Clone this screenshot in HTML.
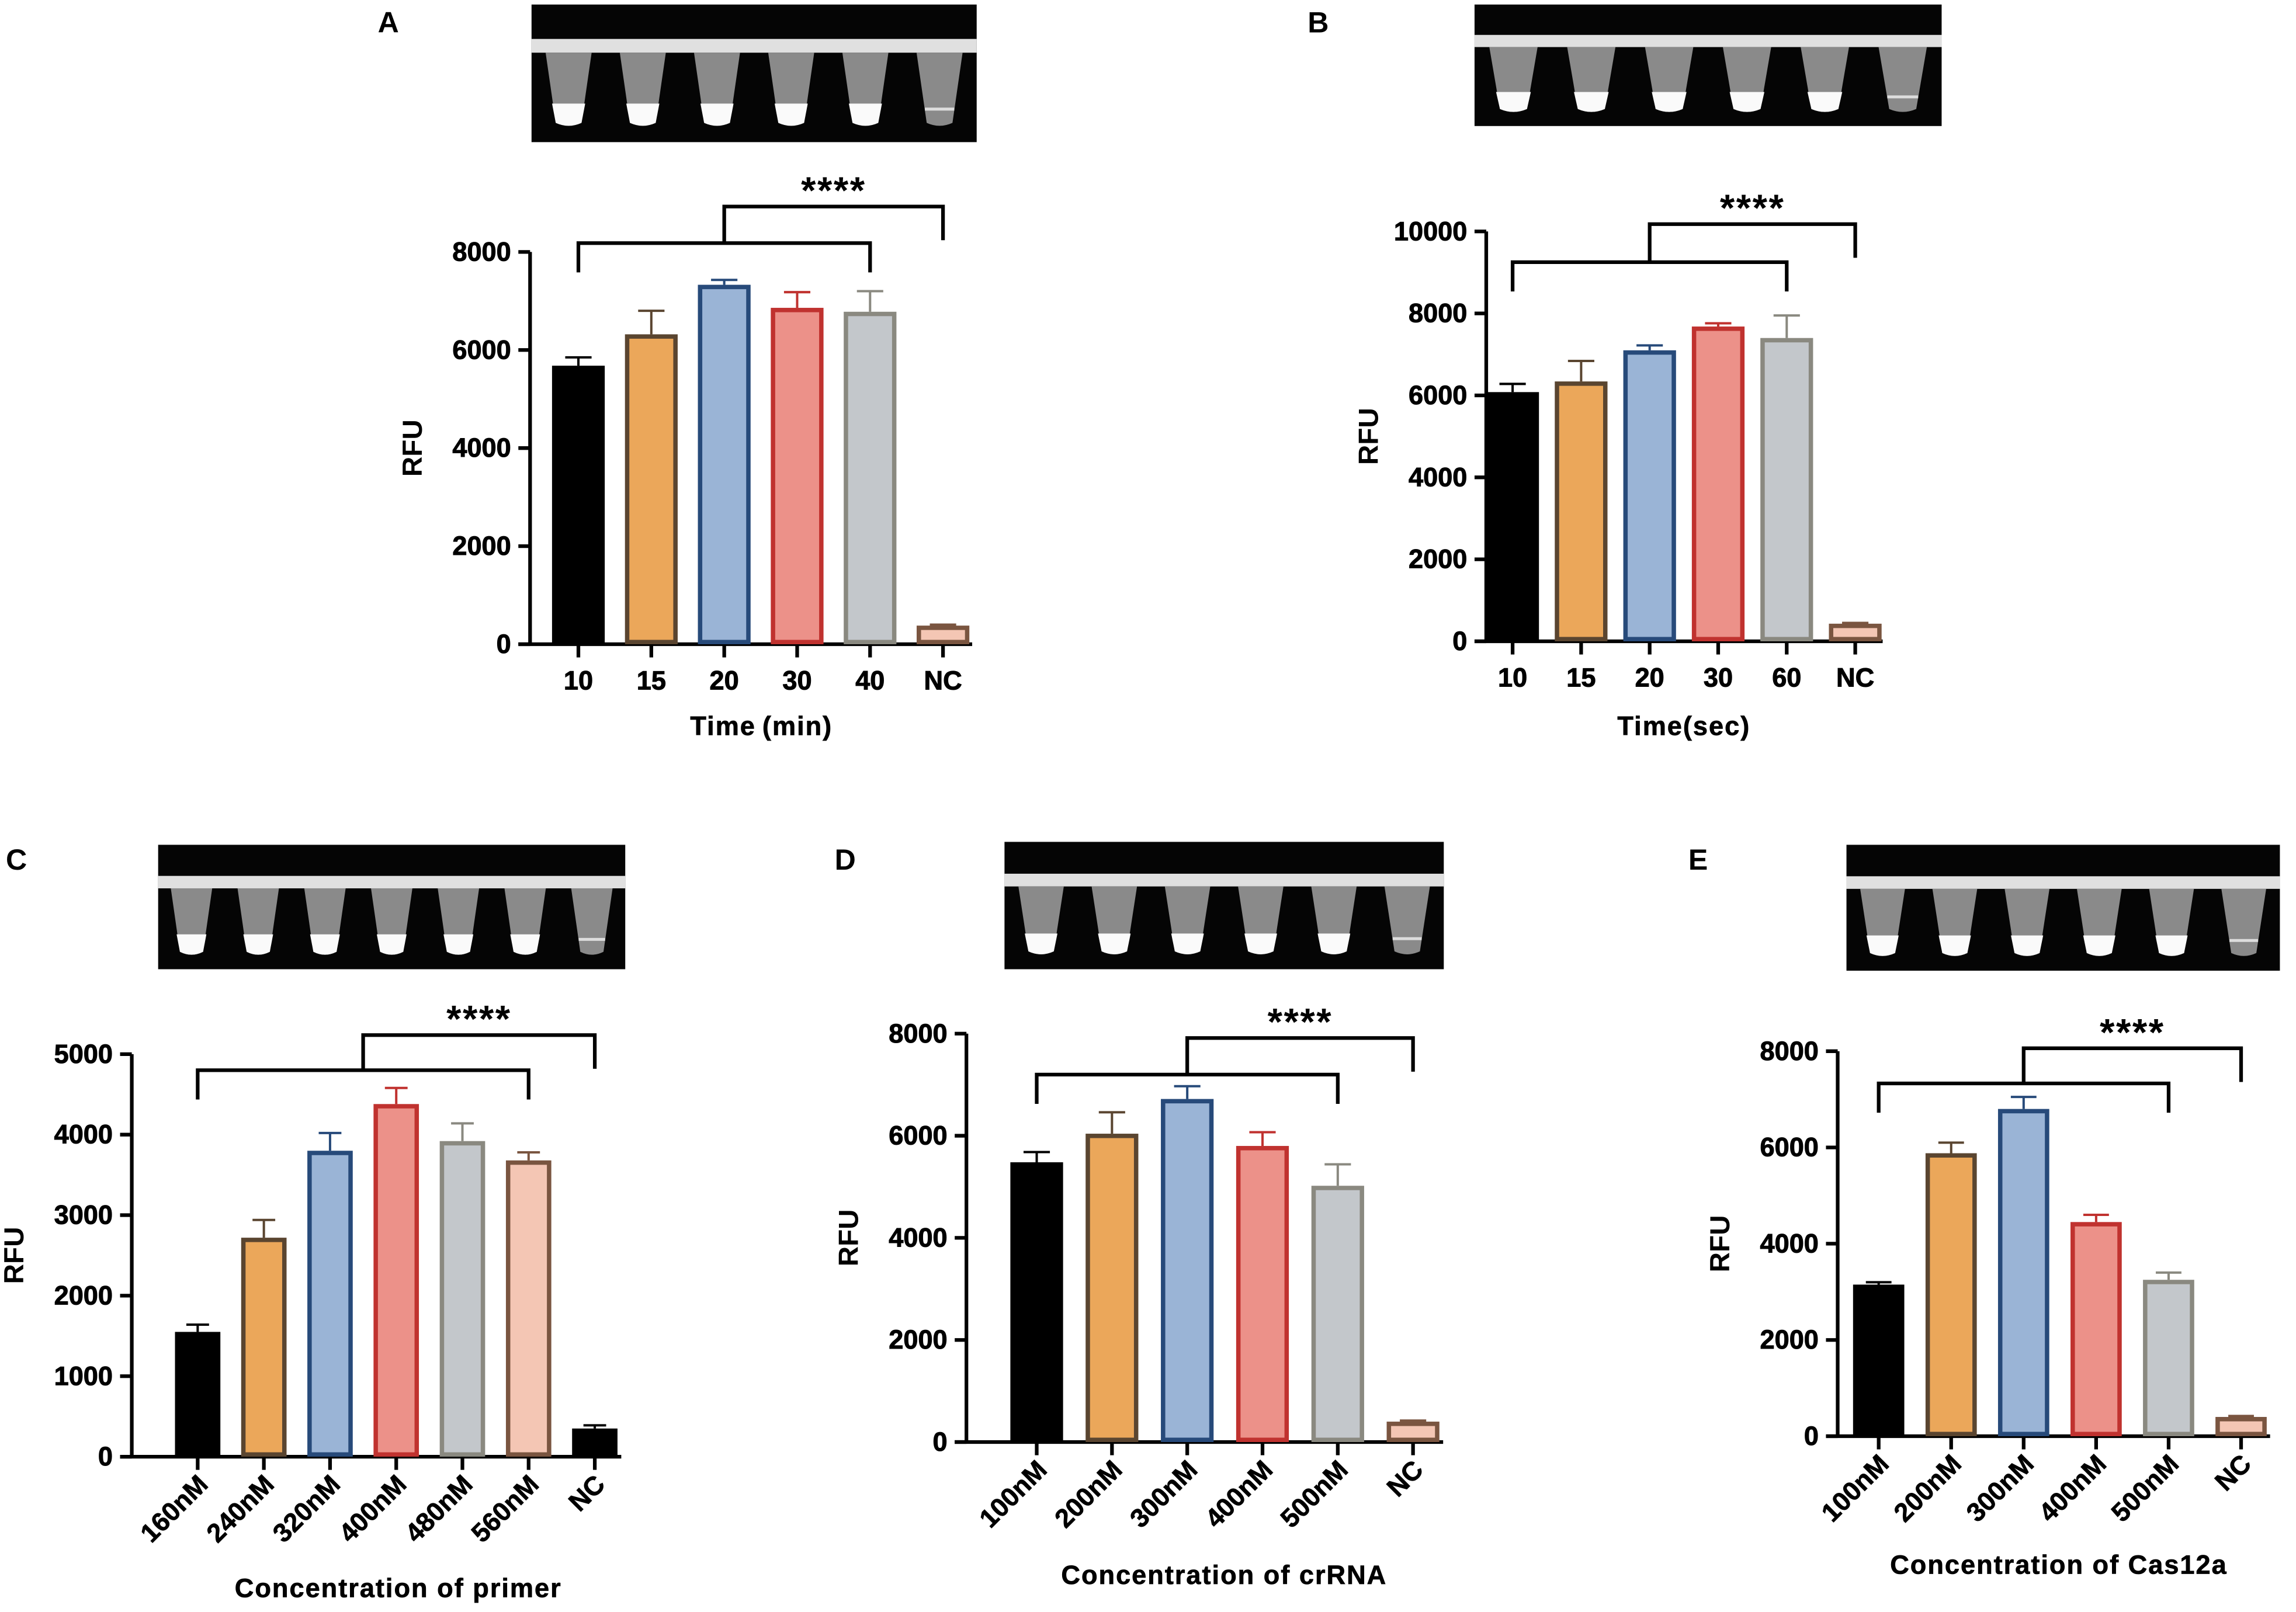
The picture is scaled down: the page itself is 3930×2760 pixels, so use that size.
<!DOCTYPE html>
<html><head><meta charset="utf-8"><style>
html,body{margin:0;padding:0;background:#fff;}
svg{display:block;font-family:"Liberation Sans",Arial,sans-serif;}
</style></head><body>
<svg id="fig" width="3930" height="2760" viewBox="0 0 1568 1101" xmlns="http://www.w3.org/2000/svg"></svg>
<script>
// ---- data ----
const catsA = ["10","15","20","30","40","NC"];
const valsA = [5680,6320,7330,6860,6780,380];
const errsA = [170,480,100,320,420,20];
const catsB = ["10","15","20","30","60","NC"];
const valsB = [6080,6340,7100,7680,7400,430];
const errsB = [200,500,120,80,550,20];
const catsC = ["160nM","240nM","320nM","400nM","480nM","560nM","NC"];
const valsC = [1550,2720,3800,4380,3920,3680,350];
const errsC = [90,220,220,200,220,100,40];
const catsD = ["100nM","200nM","300nM","400nM","500nM","NC"];
const valsD = [5480,6040,6720,5800,5020,400];
const errsD = [200,420,250,270,420,20];
const catsE = ["100nM","200nM","300nM","400nM","500nM","NC"];
const valsE = [3150,5880,6800,4450,3250,400];
const errsE = [50,220,250,150,150,20];
const ticksA = [0,2000,4000,6000,8000];
const ticksB = [0,2000,4000,6000,8000,10000];
const ticksC = [0,1000,2000,3000,4000,5000];
const ticksD = [0,2000,4000,6000,8000];
const ticksE = [0,2000,4000,6000,8000];

const STY = {
 k:{f:"#000",s:"#000"}, o:{f:"#eba75a",s:"#5a4530"}, b:{f:"#9ab4d6",s:"#274a7a"},
 r:{f:"#ec9189",s:"#c0322f"}, g:{f:"#c3c7cb",s:"#8a8980"}, n:{f:"#f4c6b4",s:"#7a5540"}
};
const NS="http://www.w3.org/2000/svg";
const svg=document.getElementById('fig');
function mk(tag,attrs,parent,txt){const e=document.createElementNS(NS,tag);for(const k in attrs)e.setAttribute(k,attrs[k]);if(txt!==undefined)e.textContent=txt;(parent||svg).appendChild(e);return e;}

function gel(g,x,y,w,h,n){
  const im=mk('g',{},g);
  
  
  mk('rect',{x:x,y:y,width:w,height:h,fill:'#050505'},im);
  mk('rect',{x:x,y:y+h*0.25,width:w,height:h*0.1,fill:'#e0e0e0'},im);
  const tw=w/n*0.62;
  for(let i=0;i<n;i++){
    const cx=x+w*(i+0.5)/n;
    const t=y+h*0.35,b=y+h*0.86;
    mk('path',{d:`M${cx-tw/2},${t} L${cx+tw/2},${t} L${cx+tw*0.28},${b} Q${cx},${b+4} ${cx-tw*0.28},${b} Z`,fill:'#8a8a8a'},im);
    if(i<n-1) mk('path',{d:`M${cx-tw*0.36},${b-h*0.14} L${cx+tw*0.36},${b-h*0.14} L${cx+tw*0.28},${b} Q${cx},${b+4} ${cx-tw*0.28},${b} Z`,fill:'#fafafa'},im);
    else mk('line',{x1:cx-tw*0.32,x2:cx+tw*0.32,y1:b-h*0.1,y2:b-h*0.1,stroke:'#ddd','stroke-width':2},im);
  }
}

function chart(o){
  const g=mk('g',{});
  
  
  const ymax=o.ticks[o.ticks.length-1];
  const Y=v=>o.y0-(v/ymax)*(o.y0-o.ytop);
  const X=i=>o.x1+o.step*i;
  mk('line',{x1:o.ax,x2:o.ax,y1:o.ytop,y2:o.y0,stroke:'#000','stroke-width':2.5},g);
  mk('line',{x1:o.ax-8,x2:X(o.cats.length-1)+o.step*0.4,y1:o.y0,y2:o.y0,stroke:'#000','stroke-width':2.5},g);
  o.ticks.forEach(t=>{
    mk('line',{x1:o.ax-8,x2:o.ax,y1:Y(t),y2:Y(t),stroke:'#000','stroke-width':2.5},g);
    const tl=mk('text',{x:o.ax-13,y:Y(t)+6,'text-anchor':'end','font-size':18,'font-weight':'bold','stroke':'#000','stroke-width':0.4},g,String(t));
    
    
  });
  const yt=mk('text',{x:0,y:0,'text-anchor':'middle','font-size':19,'font-weight':'bold',transform:`translate(${o.ax-74},${(o.y0+o.ytop)/2}) rotate(-90)`},g,'RFU');
  
  
  o.cats.forEach((c,i)=>{
    const cx=X(i), st=STY[o.cols[i]], v=o.vals[i], e=o.errs[i], bw=o.bw;
    mk('line',{x1:cx,x2:cx,y1:Y(v+e),y2:Y(v),stroke:st.s,'stroke-width':1.6},g);
    mk('line',{x1:cx-bw*0.25,x2:cx+bw*0.25,y1:Y(v+e),y2:Y(v+e),stroke:st.s,'stroke-width':1.6},g);
    const r=mk('rect',{x:cx-bw/2+1.5,y:Y(v)+1.5,width:bw-3,height:Math.max(0,o.y0-Y(v)-3),fill:st.f,stroke:st.s,'stroke-width':3},g);
    
    
    mk('line',{x1:cx,x2:cx,y1:o.y0,y2:o.y0+9,stroke:'#000','stroke-width':2.5},g);
    let lab;
    if(o.rot) lab=mk('text',{x:0,y:0,'text-anchor':'end','font-size':18,'font-weight':'bold','stroke':'#000','stroke-width':0.3,transform:`translate(${cx+8},${o.y0+20}) rotate(-45)`},g,c);
    else lab=mk('text',{x:cx,y:o.y0+31,'text-anchor':'middle','font-size':18,'font-weight':'bold','stroke':'#000','stroke-width':0.4},g,c);
    
    
  });
  const xt=mk('text',{x:o.xtx,y:o.xty,'text-anchor':'middle','font-size':18,'font-weight':'bold','letter-spacing':0.8,'stroke':'#000','stroke-width':0.3},g,o.xt);
  
  
  const br=mk('g',{fill:'none',stroke:'#000','stroke-width':2.5},g);
  
  
  const l=X(0), r=X(o.cats.length-2), mid=X(o.mid), nc=X(o.cats.length-1);
  mk('path',{d:`M${l},${o.b1+20} V${o.b1} H${r} V${o.b1+20} M${mid},${o.b1} V${o.b2} H${nc} V${o.b2+23}`},br);
  const s=mk('text',{x:(mid+nc)/2,y:o.b2-2,'text-anchor':'middle','font-size':26,'font-weight':'bold','letter-spacing':1},g,'****');
  
  
  const pl=mk('text',{x:o.lx,y:o.ly,'font-size':20,'font-weight':'bold'},g,o.letter);
  
  
  gel(g,o.gx,o.gy,o.gw,o.gh,o.cats.length);
}

chart({name:'panel-a',cats:catsA,vals:valsA,errs:errsA,ticks:ticksA,cols:['k','o','b','r','g','n'],ax:362,y0:440,ytop:172,x1:395,step:49.8,bw:36,xt:'Time\u2009(min)',xtx:520,xty:502,b1:166,b2:141,mid:2,lx:258,ly:22,letter:'A',gx:363,gy:3,gw:304,gh:94});
chart({name:'panel-b',cats:catsB,vals:valsB,errs:errsB,ticks:ticksB,cols:['k','o','b','r','g','n'],ax:1015,y0:438,ytop:158,x1:1033,step:46.8,bw:36,xt:'Time(sec)',xtx:1150,xty:502,b1:179,b2:153,mid:2,lx:893,ly:22,letter:'B',gx:1007,gy:3,gw:319,gh:83});
chart({name:'panel-c',cats:catsC,vals:valsC,errs:errsC,ticks:ticksC,cols:['k','o','b','r','g','n','k'],ax:90,y0:995,ytop:720,x1:135,step:45.2,bw:31,rot:true,xt:'Concentration of primer',xtx:272,xty:1091,b1:731,b2:707,mid:2.5,lx:4,ly:594,letter:'C',gx:108,gy:577,gw:319,gh:85});
chart({name:'panel-d',cats:catsD,vals:valsD,errs:errsD,ticks:ticksD,cols:['k','o','b','r','g','n'],ax:660,y0:985,ytop:706,x1:708,step:51.4,bw:36,rot:true,xt:'Concentration of crRNA',xtx:836,xty:1082,b1:734,b2:709,mid:2,lx:570,ly:594,letter:'D',gx:686,gy:575,gw:300,gh:87});
chart({name:'panel-e',cats:catsE,vals:valsE,errs:errsE,ticks:ticksE,cols:['k','o','b','r','g','n'],ax:1255,y0:981,ytop:718,x1:1283,step:49.5,bw:35,rot:true,xt:'Concentration of Cas12a',xtx:1406,xty:1075,b1:740,b2:716,mid:2,lx:1153,ly:594,letter:'E',gx:1261,gy:577,gw:296,gh:86});
</script>
</body></html>
